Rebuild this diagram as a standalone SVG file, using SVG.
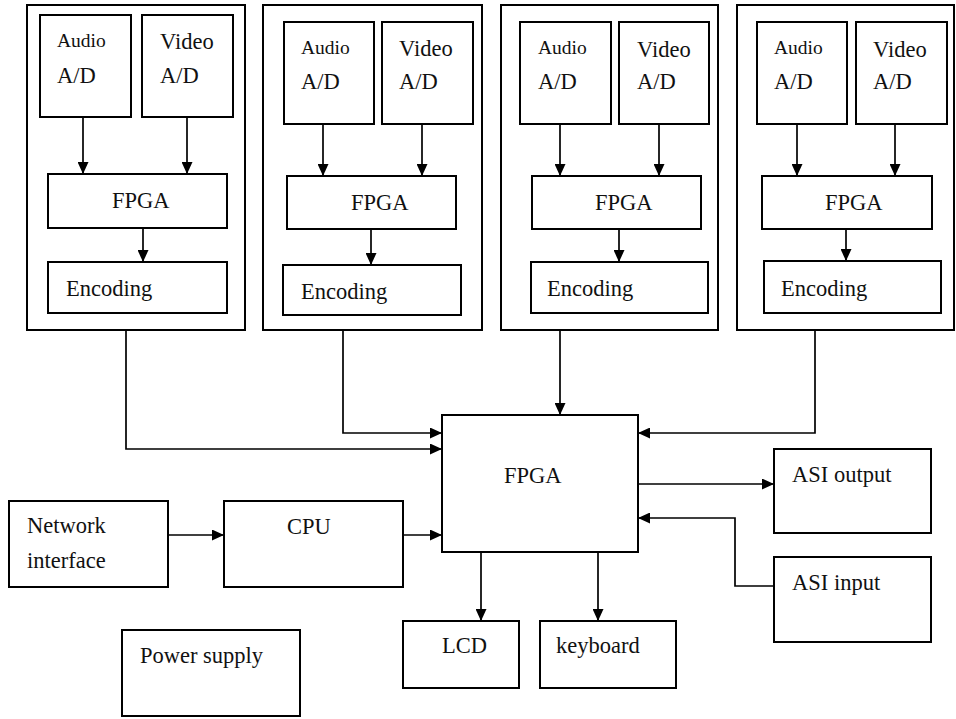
<svg xmlns="http://www.w3.org/2000/svg" width="956" height="719" viewBox="0 0 956 719">
<defs>
<marker id="ah" viewBox="0 0 12 11" refX="12" refY="5.5" markerWidth="12" markerHeight="11" markerUnits="userSpaceOnUse" orient="auto">
<path d="M0,0 L12,5.5 L0,11 Z" fill="#000"/>
</marker>
<style>
.b{fill:#fff;stroke:#000;stroke-width:2}
.t{font-family:"Liberation Serif","Times New Roman",serif;font-size:22.5px;fill:#111}
.s{font-size:19.5px}
.c{fill:none;stroke:#000;stroke-width:1.7;marker-end:url(#ah)}
</style>
</defs>
<rect width="956" height="719" fill="#fff"/>

<g id="module1">
<rect class="b" x="27" y="5" width="218" height="325"/>
<rect class="b" x="40" y="15" width="91" height="102"/>
<text class="t s" x="57" y="47">Audio</text>
<text class="t" x="57" y="83">A/D</text>
<rect class="b" x="142" y="15" width="91" height="102"/>
<text class="t" x="160" y="49">Video</text>
<text class="t" x="160" y="83">A/D</text>
<rect class="b" x="48" y="174" width="179" height="54"/>
<text class="t" x="112" y="208">FPGA</text>
<rect class="b" x="48" y="262" width="179" height="51"/>
<text class="t" x="66" y="296">Encoding</text>
</g>

<g id="module2">
<rect class="b" x="263" y="5" width="219" height="325"/>
<rect class="b" x="284" y="22" width="90" height="102"/>
<text class="t s" x="301" y="54">Audio</text>
<text class="t" x="301" y="89">A/D</text>
<rect class="b" x="382" y="22" width="91" height="102"/>
<text class="t" x="399" y="56">Video</text>
<text class="t" x="399" y="89">A/D</text>
<rect class="b" x="287" y="176" width="169" height="53"/>
<text class="t" x="351" y="210">FPGA</text>
<rect class="b" x="283" y="265" width="178" height="50"/>
<text class="t" x="301" y="299">Encoding</text>
</g>

<g id="module3">
<rect class="b" x="501" y="5" width="217" height="325"/>
<rect class="b" x="520" y="22" width="91" height="102"/>
<text class="t s" x="538" y="54">Audio</text>
<text class="t" x="538" y="89">A/D</text>
<rect class="b" x="619" y="22" width="90" height="102"/>
<text class="t" x="637" y="57">Video</text>
<text class="t" x="637" y="89">A/D</text>
<rect class="b" x="532" y="176" width="169" height="53"/>
<text class="t" x="595" y="210">FPGA</text>
<rect class="b" x="531" y="262" width="177" height="51"/>
<text class="t" x="547" y="296">Encoding</text>
</g>

<g id="module4">
<rect class="b" x="737" y="5" width="217" height="325"/>
<rect class="b" x="757" y="22" width="90" height="102"/>
<text class="t s" x="774" y="54">Audio</text>
<text class="t" x="774" y="89">A/D</text>
<rect class="b" x="856" y="22" width="91" height="102"/>
<text class="t" x="873" y="57">Video</text>
<text class="t" x="873" y="89">A/D</text>
<rect class="b" x="762" y="176" width="170" height="53"/>
<text class="t" x="825" y="210">FPGA</text>
<rect class="b" x="764" y="261" width="177" height="52"/>
<text class="t" x="781" y="296">Encoding</text>
</g>

<g id="fpga">
<rect class="b" x="442" y="415" width="196" height="137"/>
<text class="t" x="504" y="483">FPGA</text>
</g>
<g id="network">
<rect class="b" x="9" y="501" width="159" height="86"/>
<text class="t" x="27" y="533">Network</text>
<text class="t" x="27" y="568">interface</text>
</g>
<g id="cpu">
<rect class="b" x="224" y="501" width="179" height="86"/>
<text class="t" x="287" y="534">CPU</text>
</g>
<g id="power">
<rect class="b" x="122" y="630" width="178" height="86"/>
<text class="t" x="140" y="663">Power supply</text>
</g>
<g id="asi-output">
<rect class="b" x="774" y="449" width="157" height="84"/>
<text class="t" x="792" y="482">ASI output</text>
</g>
<g id="asi-input">
<rect class="b" x="774" y="557" width="157" height="85"/>
<text class="t" x="792" y="590">ASI input</text>
</g>
<g id="lcd">
<rect class="b" x="403" y="621" width="116" height="67"/>
<text class="t" x="442" y="653">LCD</text>
</g>
<g id="keyboard">
<rect class="b" x="540" y="621" width="136" height="67"/>
<text class="t" x="556" y="653">keyboard</text>
</g>

<g id="connectors">
<path class="c" d="M83,117 V174"/>
<path class="c" d="M187,117 V174"/>
<path class="c" d="M143,228 V262"/>
<path class="c" d="M323,124 V176"/>
<path class="c" d="M422,124 V176"/>
<path class="c" d="M371,229 V265"/>
<path class="c" d="M560,124 V176"/>
<path class="c" d="M659,124 V176"/>
<path class="c" d="M619,229 V262"/>
<path class="c" d="M797,124 V176"/>
<path class="c" d="M895,124 V176"/>
<path class="c" d="M846,229 V261"/>
<path class="c" d="M126,330 V449 H442"/>
<path class="c" d="M343,330 V433 H442"/>
<path class="c" d="M560,330 V415"/>
<path class="c" d="M815,330 V433 H638"/>
<path class="c" d="M168,535 H224"/>
<path class="c" d="M403,535 H442"/>
<path class="c" d="M638,484 H774"/>
<path class="c" d="M774,586 H735 V518 H638"/>
<path class="c" d="M481,552 V621"/>
<path class="c" d="M598,552 V621"/>
</g>
</svg>
